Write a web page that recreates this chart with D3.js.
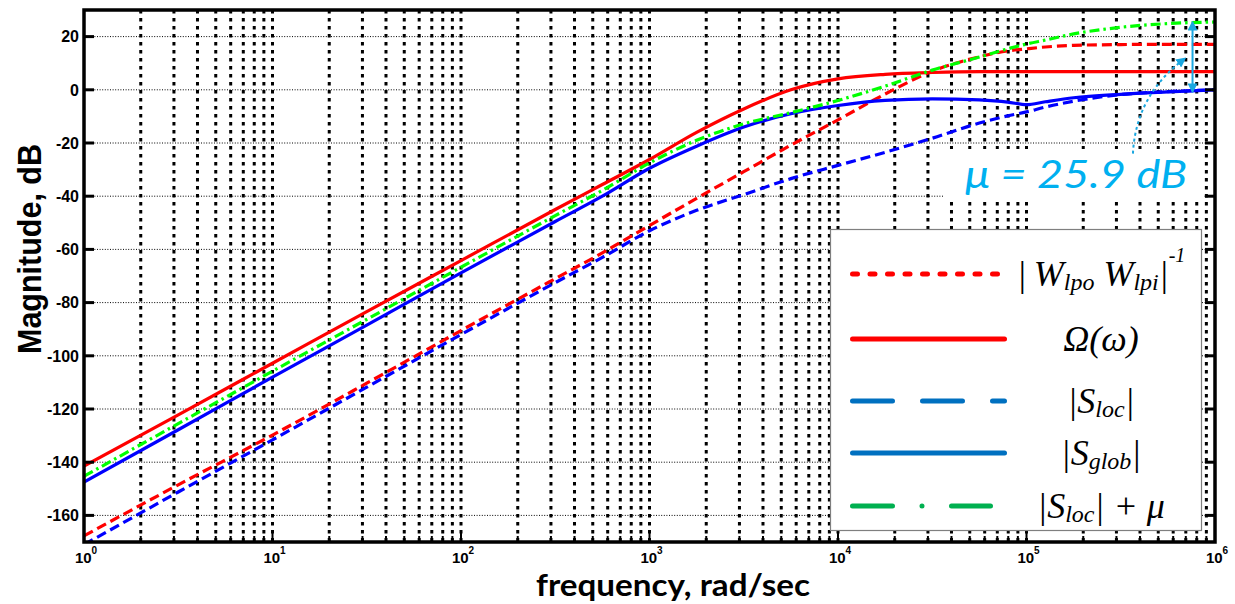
<!DOCTYPE html>
<html>
<head>
<meta charset="utf-8">
<script src="https://cdn.jsdelivr.net/npm/d3@7"></script>
<style>
  body { margin: 0; background: #fff; }
  svg { display: block; }
</style>
</head>
<body>
<svg width="1235" height="604"></svg>
<script>
// frequencies (rad/sec), half-decade steps plus extra points near the corners
var freq = [1, 3.162, 10, 31.62, 100, 316.2, 562.3, 1000, 1778, 3162, 5623,
    1e4, 17783, 31623, 56234, 79433, 1e5, 125893, 177828, 316228, 562341, 1e6];

// magnitudes in dB
var wInv = [-167.7, -148.5, -129.8, -110.3, -90.5, -71.0, -61.3, -51.0, -40.8, -30.8, -20.8,
    -11.3, -1.6, 7.0, 12.4, 14.6, 15.4, 16.1, 16.7, 17.0, 17.1, 17.1];
var omega = [-141.5, -122.2, -102.8, -83.4, -64.2, -45.0, -35.6, -26.2, -16.0, -7.2, 0.0,
    4.1, 5.8, 6.5, 6.8, 6.8, 6.8, 6.8, 6.8, 6.8, 6.8, 6.8];
var sLoc = [-171.0, -151.2, -131.6, -111.8, -92.0, -72.5, -63.0, -53.0, -45.3, -39.4, -33.4,
    -28.4, -23.5, -18.2, -12.5, -9.8, -8.3, -6.5, -4.3, -1.8, -0.7, 0.0];
var sGlob = [-147.5, -127.8, -108.0, -88.5, -68.8, -49.5, -40.0, -29.5, -21.2, -14.0, -9.0,
    -5.9, -4.0, -3.4, -3.8, -4.6, -5.6, -4.5, -3.0, -1.7, -0.8, 0.0];
var sLocMu = [-145.3, -125.5, -105.8, -86.3, -66.7, -47.3, -37.8, -27.5, -19.0, -12.8, -8.6,
    -4.0, 1.4, 7.4, 12.3, 15.4, 17.2, 18.7, 21.0, 23.5, 24.9, 25.5];

var yTicks = [-160, -140, -120, -100, -80, -60, -40, -20, 0, 20];
var xExponents = [0, 1, 2, 3, 4, 5, 6];
var mu = 25.9;
var muFreq = 7.6e5;

var svg = d3.select("svg"),
    margin = { top: 10, right: 20, bottom: 62, left: 84 },
    W = +svg.attr("width"),
    H = +svg.attr("height");

var x = d3.scaleLog()
    .domain([1, 1e6])
    .range([margin.left, W - margin.right]);

var y = d3.scaleLinear()
    .domain([-170, 30])
    .range([H - margin.bottom, margin.top]);

var x0 = x.range()[0], x1 = x.range()[1],
    yb = y.range()[0], yt = y.range()[1];

svg.append("defs").append("clipPath")
    .attr("id", "plotclip")
    .append("rect")
    .attr("x", x0).attr("y", yt)
    .attr("width", x1 - x0).attr("height", yb - yt);

// grid
var minor = [];
for (var k = 0; k < 6; k++) {
    for (var m = 1; m <= 9; m++) {
        if (k === 0 && m === 1) continue;
        minor.push(m * Math.pow(10, k));
    }
}

var grid = svg.append("g");
grid.selectAll("line.hg").data(yTicks).enter().append("line")
    .attr("class", "hg")
    .attr("x1", x0).attr("x2", x1)
    .attr("y1", function(d) { return y(d); })
    .attr("y2", function(d) { return y(d); })
    .attr("stroke", "#000")
    .attr("stroke-width", 1)
    .attr("stroke-dasharray", "1,1.6");

grid.selectAll("line.vg").data(minor).enter().append("line")
    .attr("class", "vg")
    .attr("x1", function(d) { return x(d); })
    .attr("x2", function(d) { return x(d); })
    .attr("y1", yt).attr("y2", yb)
    .attr("stroke", "#000")
    .attr("stroke-width", 3)
    .attr("stroke-dasharray", "3.5,4.5");

// curves
var series = [
    { values: wInv, color: "#ff0000", dash: "10,5" },
    { values: sLoc, color: "#0000ff", dash: "10,5" },
    { values: omega, color: "#ff0000", dash: null },
    { values: sGlob, color: "#0000ff", dash: null },
    { values: sLocMu, color: "#00ff00", dash: "10,4,2.5,4" }
];

var line = d3.line()
    .x(function(d) { return x(d[0]); })
    .y(function(d) { return y(d[1]); })
    .curve(d3.curveMonotoneX);

svg.append("g")
    .attr("clip-path", "url(#plotclip)")
    .selectAll("path").data(series).enter().append("path")
    .attr("d", function(s) { return line(d3.zip(freq, s.values)); })
    .attr("fill", "none")
    .attr("stroke", function(s) { return s.color; })
    .attr("stroke-width", 3.2)
    .attr("stroke-dasharray", function(s) { return s.dash; });

// axes box + ticks
var axes = svg.append("g").attr("stroke", "#000");

axes.selectAll("line.yt").data(yTicks).enter().append("line")
    .attr("x1", x0).attr("x2", x0 + 10)
    .attr("y1", function(d) { return y(d); })
    .attr("y2", function(d) { return y(d); })
    .attr("stroke-width", 3);
axes.selectAll("line.yt2").data(yTicks).enter().append("line")
    .attr("x1", x1).attr("x2", x1 - 10)
    .attr("y1", function(d) { return y(d); })
    .attr("y2", function(d) { return y(d); })
    .attr("stroke-width", 3);

var allX = minor.concat([1, 1e6]);
axes.selectAll("line.xt").data(allX).enter().append("line")
    .attr("x1", function(d) { return x(d); })
    .attr("x2", function(d) { return x(d); })
    .attr("y1", yb)
    .attr("y2", function(d) { return yb - (Math.abs(Math.log10(d) % 1) < 1e-9 ? 10 : 6); })
    .attr("stroke-width", 2);

axes.append("rect")
    .attr("x", x0).attr("y", yt)
    .attr("width", x1 - x0).attr("height", yb - yt)
    .attr("fill", "none")
    .attr("stroke-width", 3.5);

// tick labels
svg.append("g").selectAll("text").data(yTicks).enter().append("text")
    .attr("x", x0 - 5)
    .attr("y", function(d) { return y(d); })
    .attr("dy", "0.36em")
    .attr("text-anchor", "end")
    .style("font", "bold 16px 'Liberation Sans', Arial, sans-serif")
    .text(function(d) { return d; });

var xl = svg.append("g").selectAll("text").data(xExponents).enter().append("text")
    .attr("x", function(d) { return x(Math.pow(10, d)) + 2; })
    .attr("y", yb + 21)
    .attr("text-anchor", "middle")
    .style("font-family", "'Liberation Sans', Arial, sans-serif")
    .style("font-weight", "bold");
xl.append("tspan").style("font-size", "15px").text("10");
xl.append("tspan").style("font-size", "10px").attr("dy", -9).text(function(d) { return d; });

svg.append("text")
    .attr("x", 673)
    .attr("y", 596)
    .attr("text-anchor", "middle")
    .attr("textLength", 274)
    .attr("lengthAdjust", "spacingAndGlyphs")
    .style("font", "bold 30px Lato, 'Open Sans', sans-serif")
    .text("frequency, rad/sec");

svg.append("text")
    .attr("transform", "translate(41,249) rotate(-90)")
    .attr("text-anchor", "middle")
    .attr("textLength", 210)
    .attr("lengthAdjust", "spacingAndGlyphs")
    .style("font", "bold 33px 'Liberation Sans', Arial, sans-serif")
    .text("Magnitude, dB");

// mu annotation
var annBlue = "#1aa7e0";
svg.append("rect")
    .attr("x", 944).attr("y", 149)
    .attr("width", 260).attr("height", 53)
    .attr("fill", "#fff");

svg.append("text")
    .attr("x", 965)
    .attr("y", 188)
    .attr("textLength", 222)
    .attr("lengthAdjust", "spacingAndGlyphs")
    .attr("fill", "#00b0f0")
    .style("font", "italic 38px Lato, 'Open Sans', sans-serif")
    .text("\u03bc =  25.9 dB");

var defs = svg.select("defs");
defs.append("marker")
    .attr("id", "ah")
    .attr("viewBox", "0 0 10 10")
    .attr("refX", 8).attr("refY", 5)
    .attr("markerWidth", 5).attr("markerHeight", 5)
    .attr("markerUnits", "strokeWidth")
    .attr("orient", "auto-start-reverse")
    .append("path")
    .attr("d", "M0,0L10,5L0,10Z")
    .attr("fill", annBlue);
defs.append("marker")
    .attr("id", "ah2")
    .attr("viewBox", "0 0 10 10")
    .attr("refX", 8).attr("refY", 5)
    .attr("markerWidth", 5).attr("markerHeight", 5)
    .attr("markerUnits", "strokeWidth")
    .attr("orient", "auto")
    .append("path")
    .attr("d", "M0,0L10,5L0,10Z")
    .attr("fill", annBlue);

svg.append("line")
    .attr("x1", x(muFreq)).attr("x2", x(muFreq))
    .attr("y1", y(25.3)).attr("y2", y(25.3 - mu))
    .attr("stroke", annBlue)
    .attr("stroke-width", 2)
    .attr("marker-start", "url(#ah)")
    .attr("marker-end", "url(#ah)");

var pa = [x(3.67e5), y(-24)], pc = [x(3.8e5), y(-2)], pb = [x(6.9e5), y(11.7)];
svg.append("path")
    .attr("d", "M" + pa + "Q" + pc + " " + pb)
    .attr("fill", "none")
    .attr("stroke", annBlue)
    .attr("stroke-width", 2)
    .attr("stroke-dasharray", "3,3")
    .attr("marker-end", "url(#ah2)");

// legend
var legendItems = [
    { color: "#ff0000", dash: "5,12.5", parts: [["|\u2009W", 0], ["lpo", 1], [" W", 0], ["lpi", 1], ["|", 0], ["-1", 2]] },
    { color: "#ff0000", dash: null, parts: [["\u03a9(\u03c9)", 0]] },
    { color: "#0070c0", dash: "40,30", parts: [["|S", 0], ["loc", 1], ["|", 0]] },
    { color: "#0070c0", dash: null, parts: [["|S", 0], ["glob", 1], ["|", 0]] },
    { color: "#00b050", dash: "40,29.5,0,29.5", parts: [["|S", 0], ["loc", 1], ["| + \u03bc", 0]] }
];
var legendRows = [274, 339, 401, 453, 506];

var lg = svg.append("g");
lg.append("rect")
    .attr("x", 830.5).attr("y", 229.5)
    .attr("width", 371).attr("height", 301)
    .attr("fill", "#fff")
    .attr("stroke", "#7f7f7f")
    .attr("stroke-width", 1.2);

var row = lg.selectAll("g.row").data(legendItems).enter().append("g")
    .attr("transform", function(d, i) { return "translate(0," + legendRows[i] + ")"; });

row.append("line")
    .attr("x1", 852.5)
    .attr("x2", function(d) { return d.dash === "40,29.5,0,29.5" ? 990.5 : 1004.5; })
    .attr("stroke", function(d) { return d.color; })
    .attr("stroke-width", 5)
    .attr("stroke-linecap", "round")
    .attr("stroke-dasharray", function(d) { return d.dash; });

var lt = row.append("text")
    .attr("x", 1101)
    .attr("y", 12)
    .attr("text-anchor", "middle")
    .style("font-family", "'Liberation Serif', 'Times New Roman', serif")
    .style("font-style", "italic")
    .style("font-size", "36px");

lt.each(function(d) {
    var t = d3.select(this), shift = 0;
    d.parts.forEach(function(p) {
        var want = p[1] === 1 ? 4 : (p[1] === 2 ? -24 : 0);
        t.append("tspan")
            .attr("dy", want - shift)
            .style("font-size", p[1] === 1 ? "24px" : (p[1] === 2 ? "20px" : "36px"))
            .text(p[0]);
        shift = want;
    });
});
</script>
</body>
</html>
